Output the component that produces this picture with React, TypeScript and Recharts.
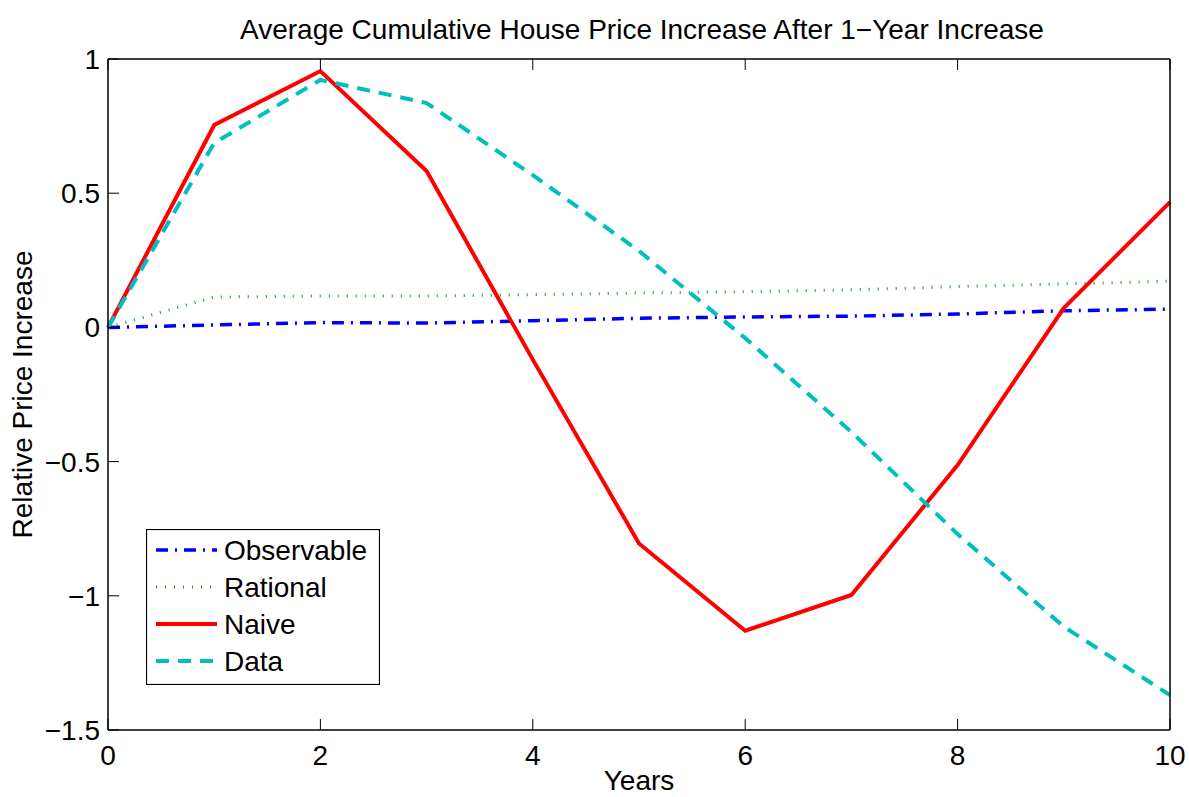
import React from 'react';
import { LineChart, Line, XAxis, YAxis, Legend, Label } from 'recharts';

const years = [0, 1, 2, 3, 4, 5, 6, 7, 8, 9, 10];
const observable = [0, 0.009, 0.018, 0.016, 0.025, 0.034, 0.039, 0.042, 0.05, 0.062, 0.068];
const rational = [0, 0.113, 0.117, 0.117, 0.122, 0.128, 0.133, 0.14, 0.152, 0.162, 0.172];
const naive = [0, 0.754, 0.955, 0.583, -0.12, -0.805, -1.13, -0.997, -0.513, 0.072, 0.467];
const dataSeries = [0, 0.687, 0.922, 0.836, 0.567, 0.285, -0.04, -0.39, -0.77, -1.115, -1.37];

const xTicks = [0, 2, 4, 6, 8, 10];
const yTicks = [-1.5, -1, -0.5, 0, 0.5, 1];

const titleText = 'Average Cumulative House Price Increase After 1\u2212Year Increase';
const xLabel = 'Years';
const yLabel = 'Relative Price Increase';

const seriesNames = ['Observable', 'Rational', 'Naive', 'Data'];
const seriesKeys = ['observable', 'rational', 'naive', 'data'];

const rows = years.map((y, i) => ({
  year: y,
  observable: observable[i],
  rational: rational[i],
  naive: naive[i],
  data: dataSeries[i],
}));

const styles: Record<string, { stroke: string; width: number; dash?: string }> = {
  observable: { stroke: '#0000ff', width: 3.5, dash: '12 7 2 7' },
  rational: { stroke: '#1e961e', width: 3, dash: '1 8' },
  naive: { stroke: '#ff0000', width: 4 },
  data: { stroke: '#00bfbf', width: 4, dash: '13 9' },
};

const FONT = '"Liberation Sans", Arial, Helvetica, sans-serif';
const FS = 28;
const minusFmt = (v: number) => (v < 0 ? '\u2212' + String(Math.abs(v)) : String(v));

const LegendBox = () => (
  <svg width={234} height={156} style={{ display: 'block' }}>
    <rect x={0.5} y={0.5} width={233} height={155} fill="#ffffff" stroke="#000000" strokeWidth={1.2} />
    {seriesKeys.map((k, i) => {
      const s = styles[k];
      const cy = 21 + i * 37;
      return (
        <g key={k}>
          <line x1={10} x2={71} y1={cy} y2={cy} stroke={s.stroke} strokeWidth={s.width} strokeDasharray={s.dash} />
          <text x={78} y={cy} dy="0.35em" fontFamily={FONT} fontSize={FS} fill="#000">
            {seriesNames[i]}
          </text>
        </g>
      );
    })}
  </svg>
);

export default function App() {
  return (
    <div style={{ position: 'absolute', left: 0, top: 0, width: 1189, height: 797, background: '#fff', fontFamily: FONT }}>
      <div
        style={{
          position: 'absolute',
          left: 0,
          width: 1284,
          top: 14,
          textAlign: 'center',
          fontSize: FS,
          fontFamily: FONT,
          color: '#000',
          lineHeight: '32px',
          zIndex: 2,
        }}
      >
        {titleText}
      </div>
      <LineChart width={1189} height={797} data={rows} margin={{ top: 0, right: 0, bottom: 0, left: 0 }}>
        <XAxis
          xAxisId="bottom"
          dataKey="year"
          type="number"
          domain={[0, 10]}
          ticks={xTicks}
          orientation="bottom"
          height={67}
          tickSize={-11}
          tickMargin={26}
          stroke="#000"
          axisLine={{ stroke: '#000', strokeWidth: 1.5 }}
          tickLine={{ stroke: '#000', strokeWidth: 1 }}
          tick={{ fill: '#000', fontSize: FS, fontFamily: FONT }}
          interval={0}
        >
          <Label value={xLabel} position="center" dy={17} style={{ fill: '#000', fontSize: FS, fontFamily: FONT }} />
        </XAxis>
        <XAxis
          xAxisId="top"
          dataKey="year"
          type="number"
          domain={[0, 10]}
          ticks={xTicks}
          orientation="top"
          height={59}
          tickSize={-11}
          tickFormatter={() => ''}
          stroke="#000"
          axisLine={{ stroke: '#000', strokeWidth: 1.5 }}
          tickLine={{ stroke: '#000', strokeWidth: 1 }}
          interval={0}
        />
        <YAxis
          yAxisId="left"
          type="number"
          domain={[-1.5, 1]}
          ticks={yTicks}
          orientation="left"
          width={108}
          tickSize={-11}
          tickMargin={19}
          tickFormatter={minusFmt}
          stroke="#000"
          axisLine={{ stroke: '#000', strokeWidth: 1.5 }}
          tickLine={{ stroke: '#000', strokeWidth: 1 }}
          tick={{ fill: '#000', fontSize: FS, fontFamily: FONT }}
          interval={0}
        >
          <Label value={yLabel} angle={-90} position="center" dx={-32} style={{ fill: '#000', fontSize: FS, fontFamily: FONT, textAnchor: 'middle' }} />
        </YAxis>
        <YAxis
          yAxisId="right"
          type="number"
          domain={[-1.5, 1]}
          ticks={yTicks}
          orientation="right"
          width={19}
          tickSize={-11}
          tickFormatter={() => ''}
          stroke="#000"
          axisLine={{ stroke: '#000', strokeWidth: 1.5 }}
          tickLine={{ stroke: '#000', strokeWidth: 1 }}
          interval={0}
        />
        {seriesKeys.map((k, i) => (
          <Line
            key={k}
            xAxisId="bottom"
            yAxisId="left"
            dataKey={k}
            name={seriesNames[i]}
            type="linear"
            stroke={styles[k].stroke}
            strokeWidth={styles[k].width}
            strokeDasharray={styles[k].dash}
            dot={false}
            activeDot={false}
            isAnimationActive={false}
          />
        ))}
        <Legend
          layout="vertical"
          align="center"
          verticalAlign="middle"
          content={() => <LegendBox />}
          wrapperStyle={{ left: 146, top: 529, width: 234, height: 156 }}
        />
      </LineChart>
    </div>
  );
}
